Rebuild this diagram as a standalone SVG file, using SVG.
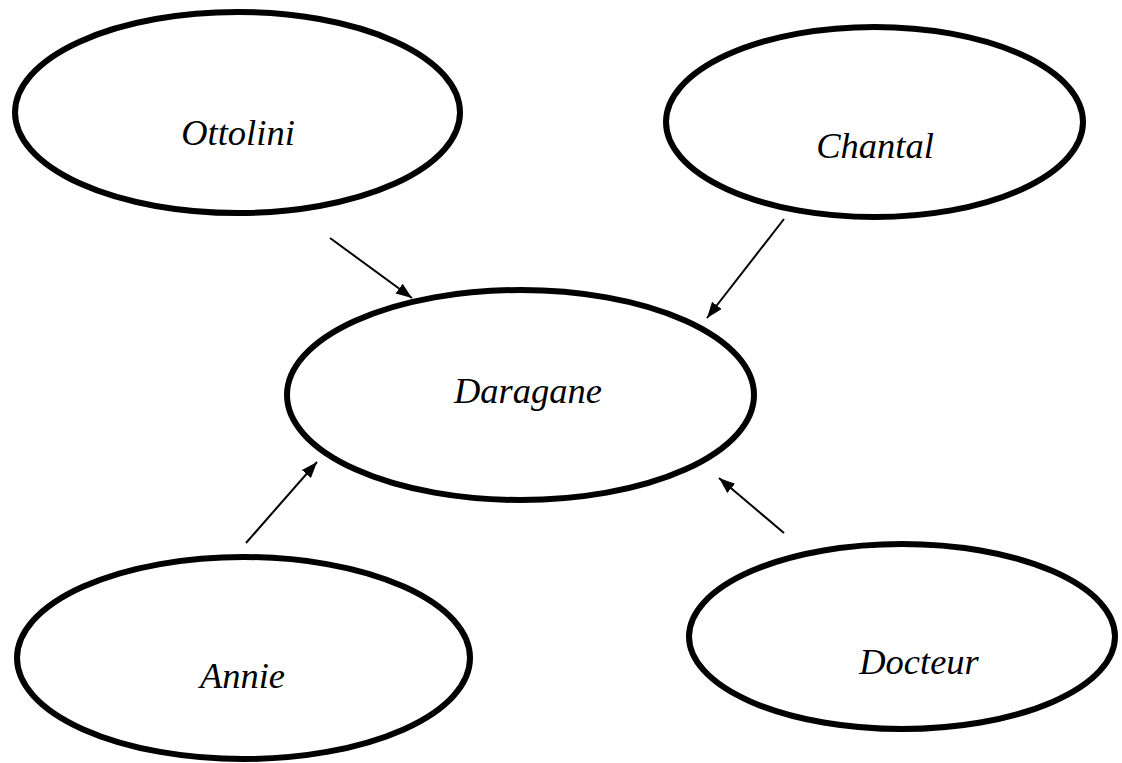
<svg xmlns="http://www.w3.org/2000/svg" width="1122" height="763" viewBox="0 0 1122 763">
<style>
.node ellipse{fill:#fff;stroke:#000;stroke-width:6}
.node text{font-family:"Liberation Serif","Times New Roman",serif;font-style:italic;font-size:36.5px;fill:#000;text-anchor:middle}
.edge{stroke:#000;stroke-width:2;fill:none;marker-end:url(#arrow)}
</style>
<defs>
<marker id="arrow" markerUnits="userSpaceOnUse" markerWidth="18" markerHeight="14" refX="16" refY="6" orient="auto">
<path d="M0,0 L16,6 L0,12 z" fill="#000"/>
</marker>
</defs>
<rect width="1122" height="763" fill="#fff"/>
<g id="ottolini" class="node"><ellipse cx="237.5" cy="112.5" rx="222.5" ry="100.5"/><text x="238" y="145">Ottolini</text></g>
<g id="chantal" class="node"><ellipse cx="874.5" cy="122" rx="208.5" ry="95"/><text x="875" y="158">Chantal</text></g>
<g id="daragane" class="node"><ellipse cx="520.5" cy="395" rx="233.5" ry="105"/><text x="528" y="403">Daragane</text></g>
<g id="annie" class="node"><ellipse cx="243.5" cy="658" rx="226.5" ry="101"/><text x="242.5" y="688">Annie</text></g>
<g id="docteur" class="node"><ellipse cx="902" cy="636.5" rx="213" ry="92.5"/><text x="919" y="674">Docteur</text></g>
<g id="connectors">
<line class="edge" x1="330" y1="238" x2="412" y2="298"/>
<line class="edge" x1="784" y1="219" x2="707" y2="318"/>
<line class="edge" x1="246" y1="543" x2="317" y2="462"/>
<line class="edge" x1="784" y1="533" x2="719" y2="478"/>
</g>
</svg>
